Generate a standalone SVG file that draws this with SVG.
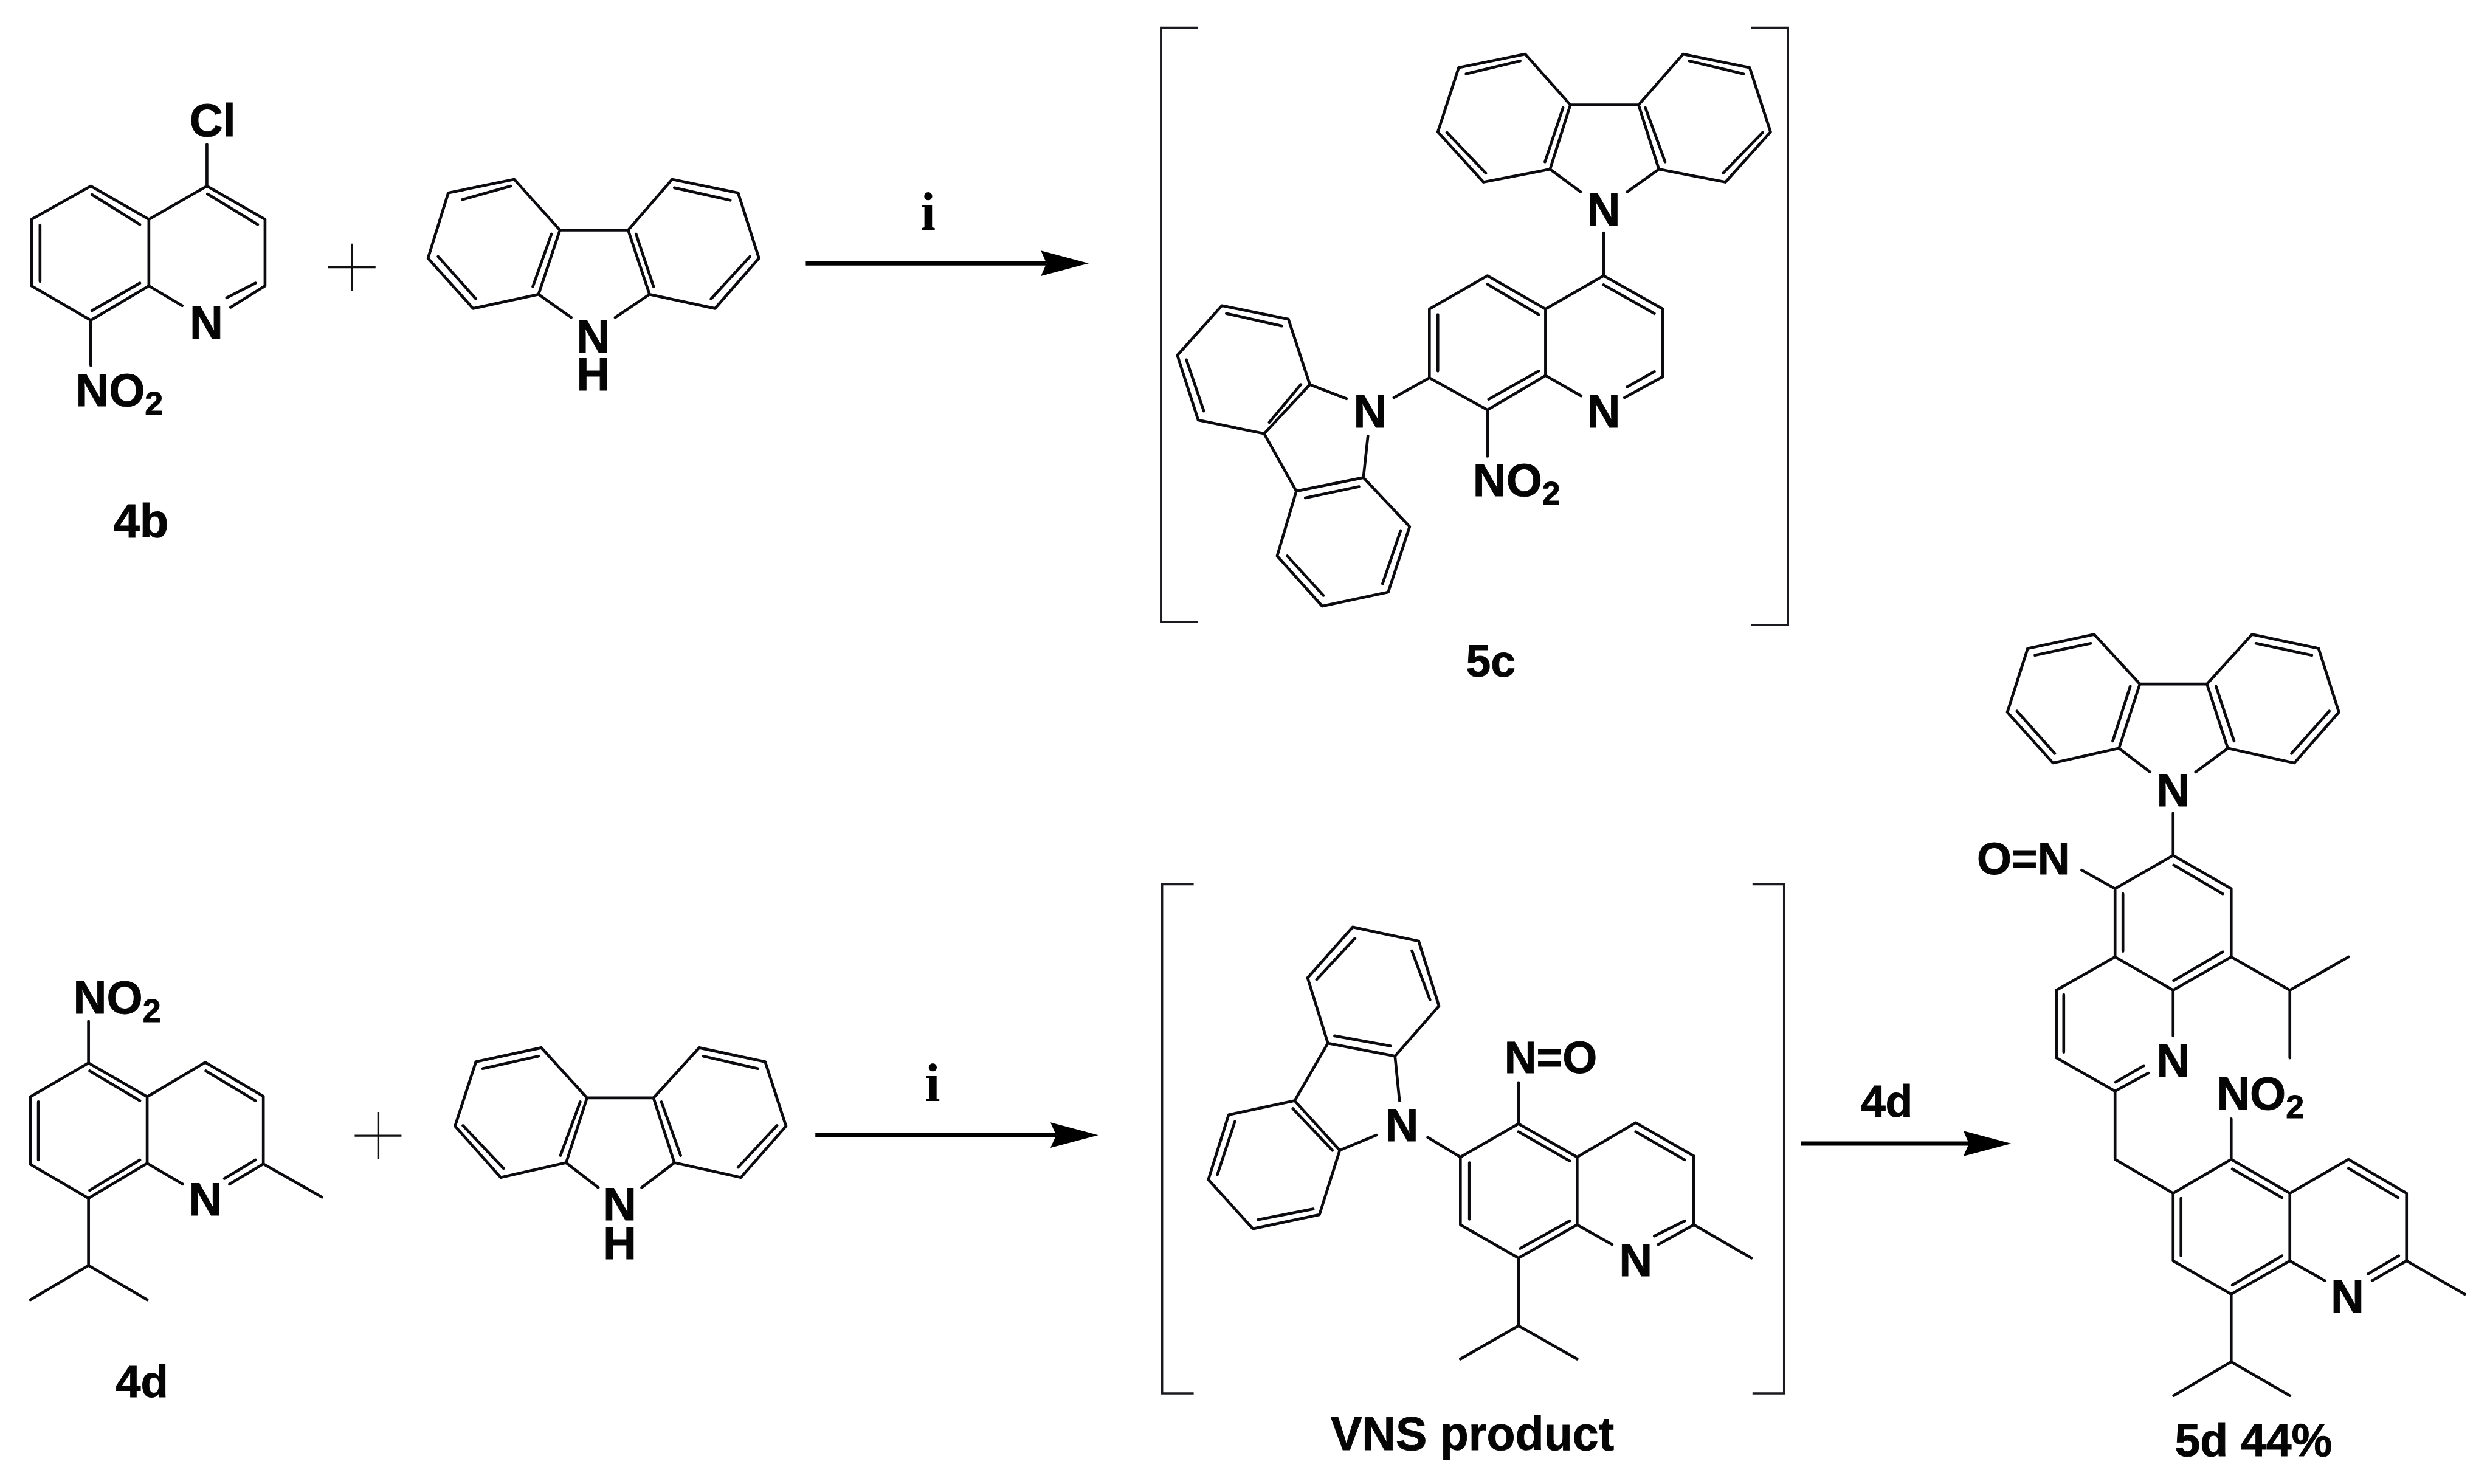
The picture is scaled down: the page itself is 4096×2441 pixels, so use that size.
<svg xmlns="http://www.w3.org/2000/svg" width="4096" height="2441" viewBox="0 0 4096 2441">
<style>
.b{fill:none;stroke:#0a0a0f;stroke-width:5;stroke-linejoin:round;stroke-linecap:round}
.br{fill:none;stroke:#1a1a20;stroke-width:3.8}
.p{fill:none;stroke:#111;stroke-width:3.6}
.t{font-family:"Liberation Sans",Arial,sans-serif;font-weight:700;fill:#050505;stroke:#050505;stroke-width:1}
.a{font-size:82px}
.s{font-size:58px}
.c{text-anchor:middle}
.i{font-family:"Liberation Serif","Times New Roman",serif;font-weight:700;font-size:96px;fill:#000;text-anchor:middle}
.ar{fill:none;stroke:#000;stroke-width:7.5}
</style>
<defs>
<marker id="head" markerUnits="userSpaceOnUse" viewBox="0 0 85 45" refX="10" refY="22.5" markerWidth="85" markerHeight="45" orient="auto"><path d="M0 0L85 22.5L0 45L10 22.5Z" fill="#000"/></marker>
</defs>
<rect width="4096" height="2441" fill="#fff"/>
<g transform="scale(0.92754)">

<g id="reactant-4b">
<path class="b" d="M161 330L264 389L367 330L470 389V507L409 545M264 389V507L323 542M264 507L161 568L56 507V389L161 330M367 330V256M161 568V648"/>
<path class="b" d="M163 345L248 398M368 344L457 398M71 399V499M163 551L248 502M453 502L402 528"/>
<text class="t a c" x="377" y="242">Cl</text>
<text class="t a c" x="366" y="600">N</text>
<text class="t a" x="134" y="720">NO<tspan class="s" dy="15">2</tspan></text>
</g>

<g id="carbazole-1">
<path class="b" d="M955 522L839 547L759 458L795 342L912 318L993 408L955 522L1013 563M993 408H1114L1152 522L1091 563M1114 408L1192 318L1309 342L1346 458L1268 547L1152 522"/>
<path class="b" d="M906 330L820 354M777 455L844 530M945 508L978 415M1128 415L1159 508M1261 530L1330 455M1196 333L1295 355"/>
<text class="t a c"><tspan x="1052" y="625">N</tspan><tspan x="1052" y="692">H</tspan></text>
</g>

<g id="plus-1"><path class="p" d="M582 474H666M624 432V516"/></g>

<g id="product-5c">
<path class="br" d="M2125 49H2059V1103H2125M3106 49H3171V1108H3106"/>
<path class="b" d="M2749 300L2631 323L2550 234L2587 120L2705 96L2785 186L2749 300L2803 340M2785 186H2906L2942 300L2886 340M2906 186L2985 96L3103 120L3140 234L3060 323L2942 300"/>
<path class="b" d="M2696 108L2600 131M2566 235L2635 307M2740 287L2772 191M2918 191L2953 287M3056 307L3126 235M2996 108L3092 131"/>
<path class="b" d="M2844 413V489L2949 548V668L2881 705M2844 489L2741 548V666L2804 702M2741 548L2638 489L2535 548V670L2638 727L2741 666M2638 727V809M2535 670L2472 705"/>
<path class="b" d="M2638 504L2729 558M2844 505L2934 556M2550 558V658M2640 708L2729 658M2934 659L2886 686"/>
<path class="b" d="M2388 707L2323 682L2285 566L2167 542L2088 630L2125 745L2242 769L2323 682M2242 769L2299 871L2418 847L2426 773M2418 847L2500 934L2462 1050L2345 1075L2265 986L2299 871"/>
<path class="b" d="M2307 682L2251 749M2273 578L2175 556M2104 638L2135 729M2315 883L2410 863M2484 941L2452 1035M2347 1056L2283 986"/>
<text class="t a c" x="2844" y="400">N</text>
<text class="t a c" x="2844" y="758">N</text>
<text class="t a c" x="2430" y="758">N</text>
<text class="t a" x="2612" y="880">NO<tspan class="s" dy="15">2</tspan></text>
</g>

<g id="reactant-4d">
<path class="b" d="M157 1885L261 1945L364 1884L467 1944V2064L407 2100M261 1945V2063L324 2100M261 2063L157 2125L54 2065V1945L157 1885M157 1885V1811M467 2064L571 2123M157 2125V2244L54 2305M157 2244L261 2305"/>
<path class="b" d="M159 1899L248 1952M365 1899L453 1952M68 1954V2057M159 2111L248 2057M453 2057L398 2090"/>
<text class="t a c" x="364" y="2155">N</text>
<text class="t a" x="130" y="1797">NO<tspan class="s" dy="15">2</tspan></text>
</g>

<g id="carbazole-2">
<path class="b" d="M1004 2062L888 2088L807 1997L844 1883L960 1858L1041 1947L1004 2062L1061 2106M1041 1947H1159L1196 2062L1138 2106M1159 1947L1240 1858L1357 1883L1394 1997L1314 2088L1196 2062"/>
<path class="b" d="M955 1873L856 1895M821 1996L893 2072M994 2049L1029 1954M1173 1954L1207 2049M1309 2070L1378 1996M1247 1873L1344 1895"/>
<text class="t a c"><tspan x="1099" y="2164">N</tspan><tspan x="1099" y="2233">H</tspan></text>
</g>

<g id="plus-2"><path class="p" d="M629 2014H712M671 1972V2056"/></g>

<g id="vns-product">
<path class="br" d="M2117 1568H2061V2471H2117M3108 1568H3164V2471H3108"/>
<path class="b" d="M2482 1952L2474 1873L2355 1850L2296 1952L2179 1977L2143 2092L2222 2179L2340 2154L2376 2040L2296 1952M2355 1850L2319 1734L2399 1644L2516 1669L2552 1784L2474 1873M2376 2040L2441 2013"/>
<path class="b" d="M2367 1837L2466 1855M2536 1773L2504 1686M2403 1664L2335 1737M2293 1966L2363 2040M2190 1989L2159 2083M2231 2163L2329 2144"/>
<path class="b" d="M2532 2017L2590 2052L2693 1993L2797 2052L2901 1991L3004 2050V2172L2941 2207M2693 1993V1920M2590 2052V2172L2693 2231L2797 2172V2052M2797 2172L2859 2207M3004 2172L3106 2231M2693 2231V2351L2590 2410M2693 2351L2797 2410"/>
<path class="b" d="M2693 2007L2784 2059M2901 2007L2988 2057M2606 2062V2162M2696 2214L2784 2165M2988 2165L2934 2192"/>
<text class="t a c" x="2486" y="2024">N</text>
<text class="t a c" x="2901" y="2263">N</text>
<text class="t" x="2668" y="1903" font-size="79">N=O</text>
</g>

<g id="product-5d">
<path class="b" d="M3795 1213L3758 1327L3641 1353L3560 1263L3596 1150L3714 1125L3795 1213H3914L3951 1327L4069 1353L4148 1263L4112 1150L3994 1125L3914 1213M3758 1327L3813 1369M3951 1327L3894 1369"/>
<path class="b" d="M3708 1141L3609 1162M3577 1261L3644 1336M3747 1314L3778 1217M3930 1217L3962 1314M4064 1336L4131 1261M4001 1141L4100 1162"/>
<path class="b" d="M3854 1442V1517L3957 1576V1697L3854 1756L3751 1697V1576L3854 1517M3751 1576L3692 1543M3854 1756V1837M3751 1697L3647 1756V1876L3751 1935L3810 1903M3957 1697L4061 1756L4165 1697M4061 1756V1876"/>
<path class="b" d="M3855 1534L3942 1585M3765 1585V1687M3855 1739L3942 1688M3660 1764V1866M3752 1919L3802 1890"/>
<path class="b" d="M3751 1935V2056L3854 2116L3957 2056L4061 2116L4165 2056L4268 2116V2236L4207 2271M3854 2116V2236L3957 2295L4061 2236V2116M4061 2236L4123 2271M4268 2236L4371 2295M3957 2056V1984M3957 2295V2415L3855 2475M3957 2415L4061 2475"/>
<path class="b" d="M3959 2073L4047 2124M4165 2072L4253 2124M3868 2125V2227M3959 2279L4047 2227M4254 2227L4200 2259"/>
<text class="t a c" x="3854" y="1430">N</text>
<text class="t a c" x="3854" y="1909">N</text>
<text class="t a c" x="4163" y="2328">N</text>
<text class="t" x="3506" y="1550" font-size="79">O=N</text>
<text class="t a" x="3931" y="1968">NO<tspan class="s" dy="15">2</tspan></text>
</g>

<g id="connectors">
<path class="ar" d="M1429 467H1856" marker-end="url(#head)"/>
<path class="ar" d="M1446 2013H1873" marker-end="url(#head)"/>
<path class="ar" d="M3194 2028H3492" marker-end="url(#head)"/>
</g>

<g id="labels">
<text class="i" x="1646" y="407">i</text>
<text class="i" x="1654" y="1953">i</text>
<text class="t" x="3300" y="1980" font-size="79">4d</text>
<text class="t" x="201" y="953" font-size="84">4b</text>
<text class="t" x="205" y="2478" font-size="80">4d</text>
<text class="t" x="2600" y="1200" font-size="79">5c</text>
<text class="t" x="2360" y="2571" font-size="83">VNS product</text>
<text class="t" x="3857" y="2582" font-size="81">5d 44%</text>
</g>
</g>
</svg>
